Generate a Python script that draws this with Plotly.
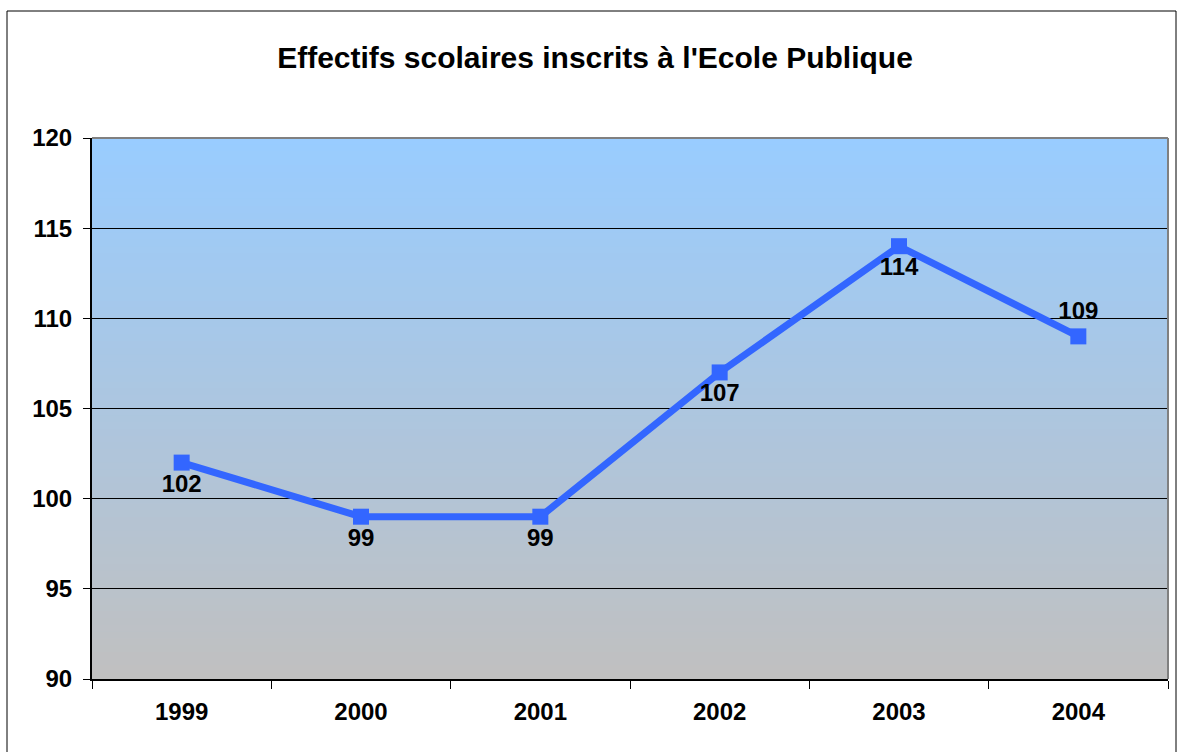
import plotly.graph_objects as go

years = ["1999", "2000", "2001", "2002", "2003", "2004"]
effectifs = [102, 99, 99, 107, 114, 109]
label_pos = ["bottom center", "bottom center", "bottom center", "bottom center", "bottom center", "top center"]
title_text = "Effectifs scolaires inscrits à l'Ecole Publique"

W, H = 1178, 752
L, R, T, B = 92, 1168, 138, 679
pw, ph = R - L, B - T

def hexmix(c1, c2, t):
    a = [int(c1[i:i + 2], 16) for i in (1, 3, 5)]
    b = [int(c2[i:i + 2], 16) for i in (1, 3, 5)]
    return "rgb(%d,%d,%d)" % tuple(round(a[k] + (b[k] - a[k]) * t) for k in range(3))

shapes = []
n = 80
for i in range(n):
    t = i / (n - 1)
    shapes.append(dict(type="rect", xref="x domain", yref="y domain",
                       x0=0, x1=1, y0=i / n, y1=(i + 1) / n + 0.002,
                       fillcolor=hexmix("#C0C0C0", "#99CCFF", t),
                       line=dict(width=0), layer="below"))
# gray top/right border of plot area
shapes.append(dict(type="line", xref="paper", yref="paper", x0=0, x1=1, y0=1, y1=1,
                   line=dict(color="#808080", width=2)))
shapes.append(dict(type="line", xref="paper", yref="paper", x0=1, x1=1, y0=0, y1=1,
                   line=dict(color="#808080", width=2)))
# outer chart border
shapes.append(dict(type="rect", xref="paper", yref="paper",
                   x0=(7 - L) / pw, x1=(1176 - L) / pw,
                   y0=(B - 800) / ph, y1=(B - 11) / ph,
                   line=dict(color="black", width=1), fillcolor="rgba(0,0,0,0)"))

fig = go.Figure()
fig.add_trace(go.Scatter(
    x=years, y=effectifs, mode="lines+markers+text",
    line=dict(color="#3366FF", width=7),
    marker=dict(symbol="square", size=16, color="#3366FF"),
    text=[str(v) for v in effectifs], textposition=label_pos,
    textfont=dict(family="Liberation Sans, Arial", size=24, color="black", weight="bold"),
    cliponaxis=False, hoverinfo="skip", showlegend=False))

fig.update_layout(
    width=W, height=H,
    margin=dict(l=L, r=W - R, t=T, b=H - B),
    paper_bgcolor="white", plot_bgcolor="rgba(0,0,0,0)",
    font=dict(family="Liberation Sans, Arial", size=24, color="black"),
    title=dict(text="<b>" + title_text + "</b>", xref="container", x=595 / W, xanchor="center",
               yref="container", y=1 - 57 / H, yanchor="middle",
               font=dict(family="Liberation Sans, Arial", size=30, color="black")),
    shapes=shapes,
    xaxis=dict(type="category", range=[-0.5, 5.5], tickson="boundaries", ticks="outside", ticklen=8,
               tickcolor="black", showline=True, linecolor="black", linewidth=2,
               showgrid=False, tickfont=dict(size=24, weight="bold"), ticklabelstandoff=10),
    yaxis=dict(range=[90, 120], dtick=5, tick0=90, ticks="outside", ticklen=7,
               tickcolor="black", showline=True, linecolor="black", linewidth=2,
               showgrid=True, gridcolor="black", gridwidth=1, zeroline=False,
               tickfont=dict(size=24, weight="bold"), ticklabelstandoff=6),
)

fig.write_html("out.html")
